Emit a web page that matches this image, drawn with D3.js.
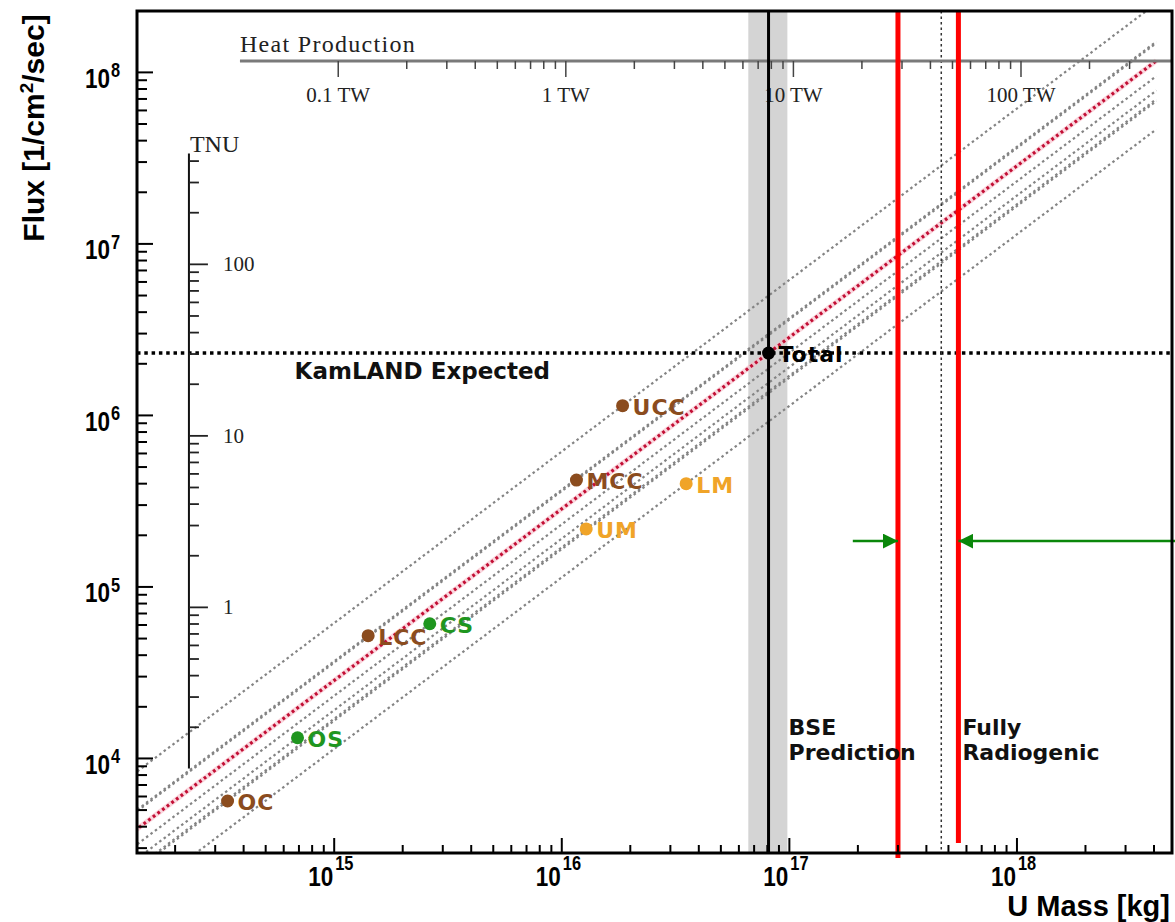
<!doctype html>
<html lang="en">
<head>
<meta charset="UTF-8">
<script src="https://cdnjs.cloudflare.com/ajax/libs/d3/7.8.5/d3.min.js"></script>
<title>U mass vs geoneutrino flux</title>
<style>
  body { margin: 0; background: #fff; }
</style>
</head>
<body>
<div id="Area"></div>
<script>
// reservoirs (mass in kg, flux in 1/cm2/sec)
const names   = ["OC", "OS", "LCC", "CS", "MCC", "UCC", "LM", "UM", "Total"];
const massKg  = [3.4e14, 6.9e14, 1.41e15, 2.63e15, 1.16e16, 1.85e16, 3.52e16, 1.28e16, 8.1e16];
const fluxVal = [5.65e3, 1.32e4, 5.2e4, 6.1e4, 4.2e5, 1.14e6, 4.0e5, 2.18e5, 2.31e6];
const group   = ["crust", "sed", "crust", "sed", "crust", "crust", "mantle", "mantle", "total"];

const kamlandFlux = 2.31e6;
const bseMass = 8.1e16;
const bseBand = [6.6e16, 9.8e16];
const radiogenicMass = 4.65e17;
const redMass = [3.0e17, 5.53e17];
const arrowFlux = 1.85e5;
const arrowLeft = [1.9e17, 3.0e17];
const arrowRight = [4.95e18, 5.53e17];
const lineMass = [1e14, 4.1e18];

const massTicks = [1e15, 1e16, 1e17, 1e18];
const fluxTicks = [1e4, 1e5, 1e6, 1e7, 1e8];
const twTicks = [0.1, 1, 10, 100];
const twLabels = ["0.1 TW", "1 TW", "10 TW", "100 TW"];
const tnuTicks = [1, 10, 100];
const twPerKg = 9.6e-17;
const fluxPerTnu = 7.6e4;

const colors = {crust: "#8b4c1e", sed: "#1f961f", mantle: "#f0a428", total: "#000"};

const W = 1175, H = 922;
const plot = {left: 137, right: 1172, top: 11, bottom: 853};

const x = d3.scaleLog().domain([1.36e14, 4.8e18]).range([plot.left, plot.right]);
const y = d3.scaleLog().domain([2.81e3, 2.28e8]).range([plot.bottom, plot.top]);
const heat = d3.scaleLog().domain(x.domain().map(d => d * twPerKg)).range(x.range());
const tnu = d3.scaleLog().domain(y.domain().map(d => d / fluxPerTnu)).range(y.range());

const svg = d3.select("#Area").append("svg")
    .attr("width", W).attr("height", H)
    .style("font-family", "'Liberation Sans', Arial, sans-serif");

const defs = svg.append("defs");
defs.append("clipPath").attr("id", "plotClip").append("rect")
    .attr("x", plot.left).attr("y", plot.top)
    .attr("width", plot.right - plot.left).attr("height", plot.bottom - plot.top);
defs.append("marker").attr("id", "arrowG")
    .attr("viewBox", "0 0 10 10").attr("refX", 10).attr("refY", 5)
    .attr("markerWidth", 15).attr("markerHeight", 15)
    .attr("markerUnits", "userSpaceOnUse").attr("orient", "auto")
    .append("path").attr("d", "M0,0L10,5L0,10z").attr("fill", "#0a870a");

const inner = svg.append("g").attr("clip-path", "url(#plotClip)");

// BSE band
inner.append("rect")
    .attr("x", x(bseBand[0])).attr("width", x(bseBand[1]) - x(bseBand[0]))
    .attr("y", plot.top).attr("height", plot.bottom - plot.top)
    .attr("fill", "#d4d4d4");

// constant flux/mass lines through every reservoir
const lineGen = d3.line().x(d => x(d[0])).y(d => y(d[1]));
names.forEach((n, i) => {
    if (n === "Total") return;
    const r = fluxVal[i] / massKg[i];
    inner.append("path").attr("d", lineGen(lineMass.map(m => [m, m * r])))
        .attr("fill", "none").attr("stroke", "#848484")
        .attr("stroke-width", 2.2).attr("stroke-dasharray", "2.5 3");
});
const rTot = fluxVal[8] / massKg[8];
inner.append("path").attr("d", lineGen(lineMass.map(m => [m, m * rTot])))
    .attr("fill", "none").attr("stroke", "#f7bcc8").attr("stroke-width", 5).attr("opacity", 0.6);
inner.append("path").attr("d", lineGen(lineMass.map(m => [m, m * rTot])))
    .attr("fill", "none").attr("stroke", "#c20f35")
    .attr("stroke-width", 3.2).attr("stroke-dasharray", "2.8 3");

// KamLAND expected
inner.append("line")
    .attr("x1", plot.left).attr("x2", plot.right)
    .attr("y1", y(kamlandFlux)).attr("y2", y(kamlandFlux))
    .attr("stroke", "#000").attr("stroke-width", 3.5).attr("stroke-dasharray", "3.5 3.8");

// fully radiogenic thin dotted
inner.append("line")
    .attr("x1", x(radiogenicMass)).attr("x2", x(radiogenicMass))
    .attr("y1", plot.top).attr("y2", plot.bottom)
    .attr("stroke", "#333").attr("stroke-width", 1.5).attr("stroke-dasharray", "2.5 3");

// heat production axis
const heatY = 61;
const heatG = svg.append("g");
heatG.append("line")
    .attr("x1", heat(0.037)).attr("x2", plot.right)
    .attr("y1", heatY).attr("y2", heatY)
    .attr("stroke", "#7a7a7a").attr("stroke-width", 3);
const heatMinor = heat.ticks().filter(t => t >= 0.1 && t <= 300);
heatG.selectAll(".hminor").data(heatMinor).join("line")
    .attr("x1", d => heat(d)).attr("x2", d => heat(d))
    .attr("y1", heatY).attr("y2", d => heatY + (twTicks.includes(d) ? 16 : 8))
    .attr("stroke", "#444").attr("stroke-width", 1.5);
heatG.selectAll(".hlab").data(twTicks).join("text")
    .attr("x", d => heat(d)).attr("y", heatY + 41)
    .attr("text-anchor", "middle")
    .style("font-family", "'Liberation Serif', serif").style("font-size", "21px")
    .attr("fill", "#222")
    .text((d, i) => twLabels[i]);
heatG.append("text")
    .attr("x", heat(0.037)).attr("y", heatY - 9)
    .style("font-family", "'Liberation Serif', serif").style("font-size", "24px")
    .style("letter-spacing", "1.3px").attr("fill", "#222")
    .text("Heat Production");

// BSE prediction line
svg.append("line")
    .attr("x1", x(bseMass)).attr("x2", x(bseMass))
    .attr("y1", plot.top).attr("y2", plot.bottom)
    .attr("stroke", "#000").attr("stroke-width", 3);

// TNU ruler
const tnuX = x(2.3e14);
const tnuG = svg.append("g");
tnuG.append("line")
    .attr("x1", tnuX).attr("x2", tnuX)
    .attr("y1", tnu(0.115)).attr("y2", tnu(443))
    .attr("stroke", "#111").attr("stroke-width", 2);
tnuG.selectAll(".tt").data(tnu.ticks().filter(t => t >= 0.2 && t <= 400)).join("line")
    .attr("x1", tnuX).attr("x2", d => tnuX + (tnuTicks.includes(d) ? 19 : 10))
    .attr("y1", d => tnu(d)).attr("y2", d => tnu(d))
    .attr("stroke", "#222").attr("stroke-width", 1.8);
tnuG.selectAll(".tl").data(tnuTicks).join("text")
    .attr("x", tnuX + 34).attr("y", d => tnu(d) + 7)
    .style("font-family", "'Liberation Serif', serif").style("font-size", "21px")
    .attr("fill", "#222")
    .text(d => d);
tnuG.append("text")
    .attr("x", tnuX + 1).attr("y", tnu(443) - 1)
    .style("font-family", "'Liberation Serif', serif").style("font-size", "24px")
    .attr("fill", "#222")
    .text("TNU");

// reservoir points and labels
const pts = svg.append("g");
names.forEach((n, i) => {
    const c = colors[group[i]];
    pts.append("circle")
        .attr("cx", x(massKg[i])).attr("cy", y(fluxVal[i]))
        .attr("r", 6.5).attr("fill", c);
    pts.append("text")
        .attr("x", x(massKg[i]) + 10).attr("y", y(fluxVal[i]) + 9)
        .style("font-family", "'DejaVu Sans', sans-serif").style("font-weight", "bold")
        .style("font-size", "22px").style("letter-spacing", "1px")
        .attr("fill", c)
        .text(n);
});

// red limit lines
svg.append("line")
    .attr("x1", x(redMass[0])).attr("x2", x(redMass[0]))
    .attr("y1", plot.top).attr("y2", plot.bottom + 5)
    .attr("stroke", "#ff0000").attr("stroke-width", 5);
svg.append("line")
    .attr("x1", x(redMass[1])).attr("x2", x(redMass[1]))
    .attr("y1", plot.top).attr("y2", plot.bottom - 10)
    .attr("stroke", "#ff0000").attr("stroke-width", 5);

// green arrows
[arrowLeft, arrowRight].forEach(a => {
    svg.append("line")
        .attr("x1", x(a[0])).attr("x2", x(a[1]))
        .attr("y1", y(arrowFlux)).attr("y2", y(arrowFlux))
        .attr("stroke", "#0a870a").attr("stroke-width", 2.5)
        .attr("marker-end", "url(#arrowG)");
});

// annotation texts
const ann = svg.append("g")
    .style("font-family", "'DejaVu Sans', sans-serif").style("font-weight", "bold")
    .attr("fill", "#111");
ann.append("text")
    .attr("x", x(6.7e14)).attr("y", y(kamlandFlux) + 26)
    .style("font-size", "23px").text("KamLAND Expected");
const noteY = y(1.37e4);
[["BSE", "Prediction", x(bseMass) + 20], ["Fully", "Radiogenic", x(redMass[1]) + 4]].forEach(t => {
    ann.append("text").attr("x", t[2]).attr("y", noteY).style("font-size", "22px").text(t[0]);
    ann.append("text").attr("x", t[2]).attr("y", noteY + 25).style("font-size", "22px").text(t[1]);
});

// frame and axes
svg.append("rect")
    .attr("x", plot.left).attr("y", plot.top)
    .attr("width", plot.right - plot.left).attr("height", plot.bottom - plot.top)
    .attr("fill", "none").attr("stroke", "#000").attr("stroke-width", 3);

const xt = x.ticks().filter(t => t > x.domain()[0] && t < x.domain()[1]);
svg.selectAll(".xt").data(xt).join("line")
    .attr("x1", d => x(d)).attr("x2", d => x(d))
    .attr("y1", plot.bottom).attr("y2", d => plot.bottom - (massTicks.includes(d) ? 15 : 8))
    .attr("stroke", "#000").attr("stroke-width", 2);
const yt = y.ticks().filter(t => t > y.domain()[0] && t <= 1.01e8);
svg.selectAll(".yt").data(yt).join("line")
    .attr("x1", plot.left).attr("x2", d => plot.left + (fluxTicks.some(f => Math.abs(f - d) / f < 1e-6) ? 16 : 10))
    .attr("y1", d => y(d)).attr("y2", d => y(d))
    .attr("stroke", "#000").attr("stroke-width", 2);

function powLabel(bx, by, sx, sy, exp) {
    svg.append("text")
        .attr("transform", `translate(${bx},${by}) scale(0.82,1)`)
        .attr("text-anchor", "end")
        .style("font-weight", "bold").style("font-size", "27.5px")
        .text("10");
    svg.append("text")
        .attr("transform", `translate(${sx},${sy}) scale(0.82,1)`)
        .style("font-weight", "bold").style("font-size", "20px")
        .text(exp);
}
massTicks.forEach(t => {
    const e = Math.round(Math.log10(t));
    powLabel(x(t) - 1, 886, x(t) + 1, 870, e);
});
fluxTicks.forEach(t => {
    const e = Math.round(Math.log10(t));
    powLabel(110, y(t) + 15.5, 111, y(t) + 5, e);
});

// axis titles
svg.append("text")
    .attr("x", plot.right - 2).attr("y", 916)
    .attr("text-anchor", "end")
    .style("font-weight", "bold").style("font-size", "29px")
    .text("U Mass [kg]");
const yTitle = svg.append("text")
    .attr("transform", `translate(44,${(13 + 243) / 2}) rotate(-90)`)
    .attr("text-anchor", "middle")
    .style("font-weight", "bold").style("font-size", "30px");
yTitle.append("tspan").text("Flux [1/cm");
yTitle.append("tspan").attr("dy", -11).style("font-size", "19px").text("2");
yTitle.append("tspan").attr("dy", 11).text("/sec]");
</script>
</body>
</html>
